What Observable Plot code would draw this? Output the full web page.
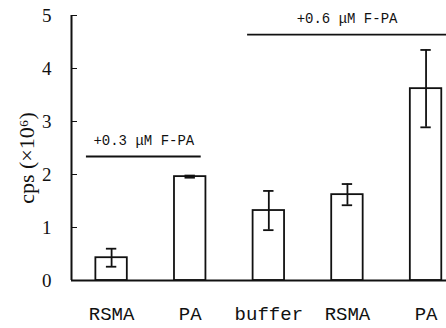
<!DOCTYPE html>
<html><head><meta charset="utf-8">
<script src="https://cdn.jsdelivr.net/npm/d3@7"></script>
<script src="https://cdn.jsdelivr.net/npm/@observablehq/plot@0.6"></script>
<style>body{margin:0;background:#fff}</style>
</head><body><div id="chart"></div>
<script>
const categories = ["RSMA", "PA", "buffer", "RSMA", "PA"];
const means = [0.43, 1.96, 1.32, 1.62, 3.62];
const errors = [0.17, 0.02, 0.37, 0.20, 0.73];
const yTicks = [0, 1, 2, 3, 4, 5];
const yLabel = "cps (×10⁶)";
const annLabels = ["+0.3 μM F-PA", "+0.6 μM F-PA"];
const annLevel = [2.34, 4.64];
const annFrom = [-0.32, 1.73];
const annTo = [1.14, 4.26];

const xDomain = [-0.51, 4.26];
const data = categories.map((c, i) => ({i, c, m: means[i], e: errors[i]}));
const ann = annLabels.map((t, k) => ({t, y: annLevel[k], x1: annFrom[k], x2: annTo[k]}));
const halfBar = 0.2, halfCap = 0.066;

const chart = Plot.plot({
  width: 446, height: 328,
  marginLeft: 71, marginRight: 0, marginTop: 15, marginBottom: 48,
  style: {fontFamily: "Liberation Serif", background: "#fff", color: "#111"},
  x: {type: "linear", domain: xDomain, range: [71, 446]},
  y: {domain: [0, 5]},
  marks: [
    Plot.rect(data, {x1: d => d.i - halfBar, x2: d => d.i + halfBar, y1: 0, y2: "m", fill: "white", stroke: "#111", strokeWidth: 1.8}),
    Plot.ruleX(data, {x: "i", y1: d => d.m - d.e, y2: d => d.m + d.e, stroke: "#111", strokeWidth: 1.8}),
    Plot.ruleY(data, {y: d => d.m + d.e, x1: d => d.i - halfCap, x2: d => d.i + halfCap, stroke: "#111", strokeWidth: 1.8}),
    Plot.ruleY(data, {y: d => d.m - d.e, x1: d => d.i - halfCap, x2: d => d.i + halfCap, stroke: "#111", strokeWidth: 1.8}),
    Plot.ruleY(ann, {y: "y", x1: "x1", x2: "x2", stroke: "#111", strokeWidth: 1.8}),
    Plot.text(ann, {y: "y", x: d => (d.x1 + d.x2) / 2, text: "t", dy: -16, fontSize: 14, fontFamily: "Liberation Mono", fill: "#111"}),
    Plot.axisY({ticks: yTicks, tickFormat: d => String(d), tickSize: -6, tickPadding: 26, fontSize: 19, label: null}),
    Plot.axisX({ticks: [0, 1, 2, 3, 4], tickFormat: i => categories[i], tickSize: 0, tickPadding: 26, fontSize: 19, fontFamily: "Liberation Mono", label: null}),
    Plot.ruleX([xDomain[0]], {stroke: "#111", strokeWidth: 2}),
    Plot.ruleY([0], {stroke: "#111", strokeWidth: 2}),
    Plot.text([yLabel], {frameAnchor: "left", textAnchor: "middle", rotate: -90, dx: -45, dy: 10, fontSize: 22, fill: "#111"})
  ]
});
document.getElementById("chart").append(chart);
</script></body></html>
